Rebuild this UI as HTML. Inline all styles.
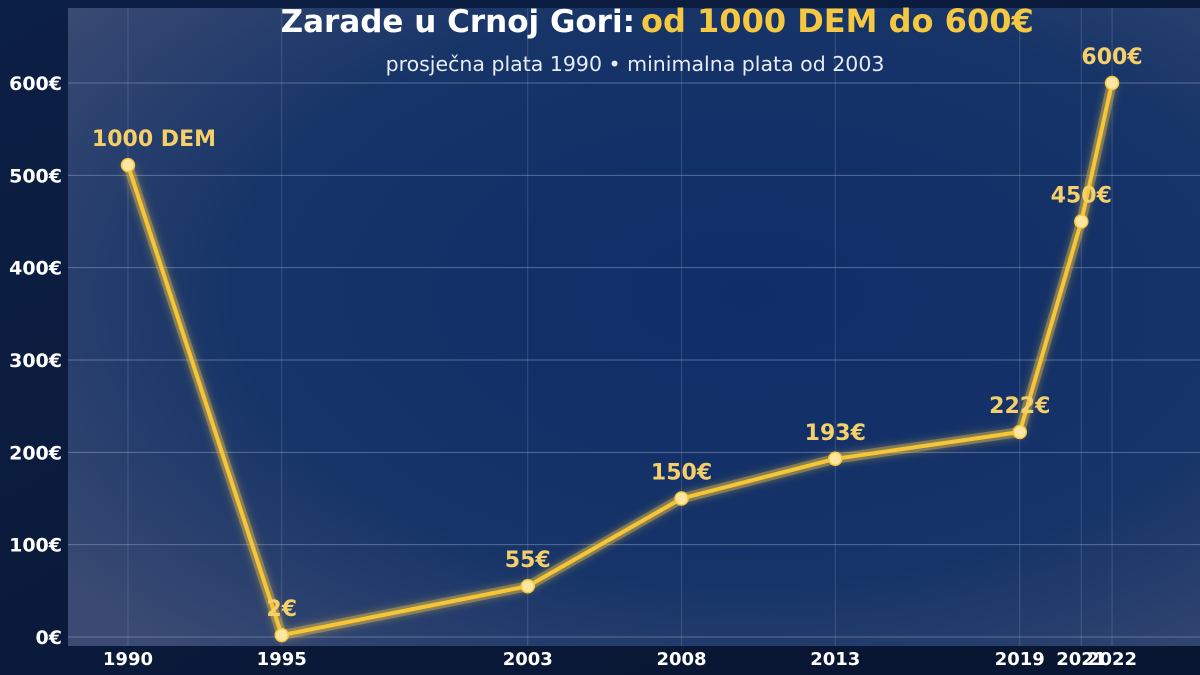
<!DOCTYPE html>
<html><head><meta charset="utf-8"><style>
html,body{margin:0;padding:0;background:#0a1836;}
svg{display:block;font-family:"DejaVu Sans","Liberation Sans",sans-serif;}
</style></head><body>
<svg id="chart" width="1200" height="675" viewBox="0 0 1200 675">
<defs>
<linearGradient id="bgOuter" x1="0" y1="0" x2="1" y2="1"><stop offset="0" stop-color="#0c1f45"/><stop offset="1" stop-color="#081530"/></linearGradient>
<radialGradient id="plotBg" cx="0.6" cy="0.45" r="0.75"><stop offset="0" stop-color="#0f2d68"/><stop offset="0.6" stop-color="#163468"/><stop offset="1" stop-color="#3a4a72"/></radialGradient>
<filter id="glow" x="-10%" y="-10%" width="120%" height="120%"><feGaussianBlur stdDeviation="4" result="b"/><feMerge><feMergeNode in="b"/><feMergeNode in="SourceGraphic"/></feMerge></filter>
</defs>
<rect width="1200" height="675" fill="url(#bgOuter)"/>
<rect x="68" y="8" width="1132" height="638" fill="url(#plotBg)"/>
<g id="grid"></g>
<g id="series"></g>
<g id="labels"></g>
<text x="635" y="32" text-anchor="end" font-size="31" font-weight="bold" fill="#ffffff">Zarade u Crnoj Gori:</text>
<text x="641" y="32" text-anchor="start" font-size="32" font-weight="bold" fill="#f5c842">od 1000 DEM do 600€</text>
<text x="635" y="71" text-anchor="middle" font-size="20.5" fill="#e8ecf5">prosječna plata 1990 • minimalna plata od 2003</text>
</svg>
<script>
const years=[1990,1995,2003,2008,2013,2019,2021,2022];
const values=[511,2,55,150,193,222,450,600];
const pointLabels=["1000 DEM","2€","55€","150€","193€","222€","450€","600€"];
const yTicks=[0,100,200,300,400,500,600];
const yTickLabels=["0€","100€","200€","300€","400€","500€","600€"];
const NS="http://www.w3.org/2000/svg";
const xMin=1988.05,xMax=2024.86,pxL=68,pxR=1200;
const x=v=>pxL+(v-xMin)/(xMax-xMin)*(pxR-pxL);
const y=v=>637-v*(637-83)/600;
function mk(tag,attrs,parent,text){const e=document.createElementNS(NS,tag);for(const k in attrs)e.setAttribute(k,attrs[k]);if(text!==undefined)e.textContent=text;parent.appendChild(e);return e;}
const grid=document.getElementById('grid'),ser=document.getElementById('series'),lab=document.getElementById('labels');
yTicks.forEach((t,i)=>{
 const l=mk('line',{x1:68,x2:1200,y1:y(t),y2:y(t),stroke:'#8b9bc0','stroke-opacity':0.55,'stroke-width':1},grid);
 
 
 const tx=mk('text',{x:62,y:y(t)+7,'text-anchor':'end','font-size':19,'font-weight':'bold',fill:'#ffffff'},grid,yTickLabels[i]);
 
 
});
years.forEach(yr=>{
 const l=mk('line',{x1:x(yr),x2:x(yr),y1:8,y2:646,stroke:'#8b9bc0','stroke-opacity':0.3,'stroke-width':1},grid);
 
 
 const tx=mk('text',{x:x(yr),y:665,'text-anchor':'middle','font-size':18,'font-weight':'bold',fill:'#ffffff'},grid,String(yr));
 
 
});
const pts=years.map((yr,i)=>x(yr)+','+y(values[i])).join(' ');
const glow=mk('polyline',{points:pts,fill:'none',stroke:'#f5c842','stroke-opacity':0.35,'stroke-width':10,'stroke-linejoin':'round',filter:'url(#glow)'},ser);


const line=mk('polyline',{points:pts,fill:'none',stroke:'#f7c637','stroke-width':4,'stroke-linejoin':'round'},ser);


years.forEach((yr,i)=>{
 const c=mk('circle',{cx:x(yr),cy:y(values[i]),r:6.5,fill:'#fde7a0',stroke:'#f5c842','stroke-width':1.5},ser);
 
 
 const t=mk('text',{x:x(yr)+(i===0?26:0),y:y(values[i])-19,'text-anchor':'middle','font-size':22,'font-weight':'bold',fill:'#f5d06a'},lab,pointLabels[i]);
 
 
});
</script>
</body></html>
